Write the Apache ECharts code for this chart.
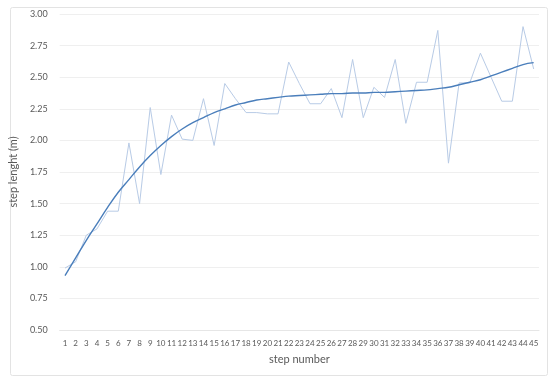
<!DOCTYPE html>
<html>
<head>
<meta charset="utf-8">
<script src="https://cdn.jsdelivr.net/npm/echarts@6/dist/echarts.min.js"></script>
<style>html,body{margin:0;padding:0;background:#fff}#c{width:550px;height:378px}</style>
</head>
<body>
<div id="c"></div>
<script>
const categories = Array.from({length: 45}, (_, i) => String(i + 1));
const stepLength = [0.99, 1.04, 1.25, 1.30, 1.44, 1.44, 1.98, 1.50, 2.26, 1.73,
  2.20, 2.01, 2.00, 2.33, 1.96, 2.45, 2.33, 2.22, 2.22, 2.21,
  2.21, 2.62, 2.45, 2.29, 2.29, 2.41, 2.18, 2.64, 2.18, 2.42,
  2.34, 2.64, 2.135, 2.46, 2.46, 2.87, 1.82, 2.455, 2.455, 2.69,
  2.50, 2.31, 2.31, 2.90, 2.565];
const trend = [0.93, 1.07, 1.21, 1.34, 1.47, 1.59, 1.69, 1.79, 1.88, 1.96,
  2.03, 2.09, 2.14, 2.18, 2.22, 2.25, 2.28, 2.30, 2.32, 2.33,
  2.34, 2.35, 2.355, 2.36, 2.365, 2.37, 2.37, 2.375, 2.375, 2.38,
  2.38, 2.385, 2.39, 2.395, 2.40, 2.41, 2.42, 2.44, 2.46, 2.48,
  2.51, 2.54, 2.57, 2.60, 2.615];
const yTicks = {min: 0.5, max: 3.0, interval: 0.25};

const chart = echarts.init(document.getElementById('c'), null, {renderer: 'canvas'});
const font = 'Lato, "Open Sans", sans-serif';
chart.setOption({
  animation: false,
  backgroundColor: '#fff',
  graphic: [{
    type: 'rect', left: 8, top: 5,
    shape: {width: 537, height: 368, r: 2},
    style: {fill: 'none', stroke: '#e3e3e3', lineWidth: 1},
    silent: true, z: -1
  }],
  grid: {left: 55, right: 11, top: 14, bottom: 48},
  xAxis: {
    type: 'category',
    data: categories,
    boundaryGap: true,
    name: 'step number',
    nameLocation: 'middle',
    nameGap: 24,
    nameTextStyle: {color: '#595959', fontSize: 11, fontFamily: font},
    axisLine: {lineStyle: {color: '#e6e6e6'}},
    axisTick: {show: false},
    axisLabel: {interval: 0, color: '#595959', fontSize: 8, fontFamily: font, margin: 9}
  },
  yAxis: {
    type: 'value',
    min: yTicks.min, max: yTicks.max, interval: yTicks.interval,
    name: 'step lenght (m)',
    nameLocation: 'middle',
    nameGap: 33,
    nameTextStyle: {color: '#595959', fontSize: 11, fontFamily: font},
    axisLine: {show: false},
    axisTick: {show: false},
    splitLine: {lineStyle: {color: '#efefef'}},
    axisLabel: {color: '#595959', fontSize: 9, fontFamily: font, margin: 12,
      formatter: v => v.toFixed(2)}
  },
  series: [
    {
      type: 'line', data: stepLength, symbol: 'none',
      lineStyle: {color: '#b8cbe6', width: 1}
    },
    {
      type: 'line', data: trend, symbol: 'none', smooth: 0.4,
      lineStyle: {color: '#4a7ebb', width: 1.4}
    }
  ]
});
</script>
</body>
</html>
